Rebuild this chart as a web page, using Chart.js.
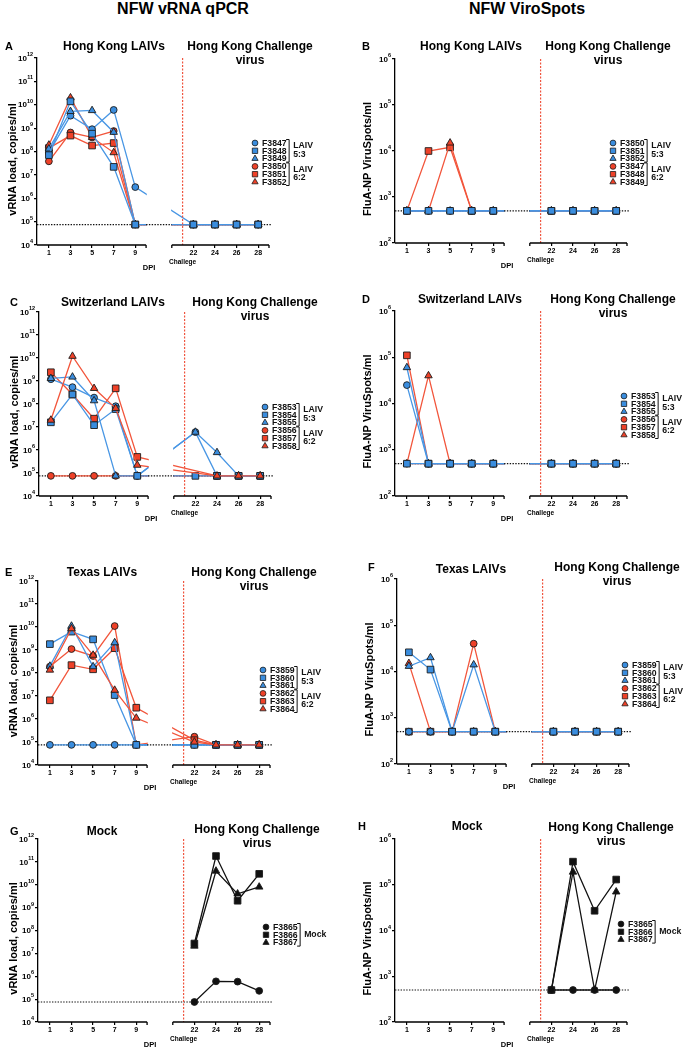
<!DOCTYPE html>
<html>
<head>
<meta charset="utf-8">
<script src="https://cdn.jsdelivr.net/npm/chart.js@4.4.1/dist/chart.umd.min.js"></script>
<style>
  body { margin: 0; width: 684px; height: 1050px; position: relative; overflow: hidden; background: #fff; }
  canvas { position: absolute; }
  .colTitle { position: absolute; top: 0; width: 240px; text-align: center; line-height: 20px;
              font: bold 16px "Liberation Sans", Arial, sans-serif; color: #000; }
</style>
</head>
<body>
<div class="colTitle" style="left:63px">NFW vRNA qPCR</div>
<div class="colTitle" style="left:407px">NFW ViroSpots</div>
<script>
// ---- data ----
const days = [1, 3, 5, 7, 9, 22, 24, 26, 28];
const challengeDay = 21;
const lodR = 7.5e4;   // qPCR detection limit
const lodS = 500;     // ViroSpots detection limit

const idsHongKong      = ['F3847', 'F3848', 'F3849', 'F3850', 'F3851', 'F3852'];
const idsHongKongSpots = ['F3850', 'F3851', 'F3852', 'F3847', 'F3848', 'F3849'];
const idsSwiss         = ['F3853', 'F3854', 'F3855', 'F3856', 'F3857', 'F3858'];
const idsTexas         = ['F3859', 'F3860', 'F3861', 'F3862', 'F3863', 'F3864'];
const idsMock          = ['F3865', 'F3866', 'F3867'];

const rnaHongKong = [
  [9e7,   3.4e9,  9e8,   6e9,   3e6,  lodR, lodR, lodR, lodR],
  [7e7,   1.4e10, 5.8e8, 2.2e7, lodR, lodR, lodR, lodR, lodR],
  [1.3e8, 5.2e9,  5.7e9, 6.7e8, lodR, lodR, lodR, lodR, lodR],
  [3.8e7, 6.5e8,  4e8,   7.5e8, lodR, lodR, lodR, lodR, lodR],
  [1.4e8, 4.8e8,  1.8e8, 2.3e8, lodR, lodR, lodR, lodR, lodR],
  [1.9e8, 2e10,   4e8,   9e7,   lodR, lodR, lodR, lodR, lodR]
];
const spotsHongKong = [
  [lodS, lodS, lodS,  lodS, lodS, lodS, lodS, lodS, lodS],
  [lodS, lodS, lodS,  lodS, lodS, lodS, lodS, lodS, lodS],
  [lodS, lodS, lodS,  lodS, lodS, lodS, lodS, lodS, lodS],
  [lodS, lodS, lodS,  lodS, lodS, lodS, lodS, lodS, lodS],
  [lodS, 1e4,  1.2e4, lodS, lodS, lodS, lodS, lodS, lodS],
  [lodS, lodS, 1.5e4, lodS, lodS, lodS, lodS, lodS, lodS]
];
const rnaSwiss = [
  [1.2e9, 5.4e8,  1.9e8, 8e7,   lodR,  6e6,  lodR,  lodR, lodR],
  [1.6e7, 2.6e8,  1.2e7, 6e7,   lodR,  lodR, lodR,  lodR, lodR],
  [1.3e9, 1.5e9,  1.4e8, lodR,  lodR,  6e6,  7.8e5, lodR, lodR],
  [lodR,  lodR,   lodR,  lodR,  lodR,  null, lodR,  lodR, lodR],
  [2.4e9, 2.6e8,  2.3e7, 4.8e8, 5e5,   null, lodR,  lodR, lodR],
  [2e7,   1.2e10, 4.8e8, 6.5e7, 2.2e5, null, lodR,  lodR, lodR]
];
const spotsSwiss = [
  [2.5e4, lodS, lodS, lodS, lodS, lodS, lodS, lodS, lodS],
  [lodS,  lodS, lodS, lodS, lodS, lodS, lodS, lodS, lodS],
  [6e4,   lodS, lodS, lodS, lodS, lodS, lodS, lodS, lodS],
  [lodS,  lodS, lodS, lodS, lodS, lodS, lodS, lodS, lodS],
  [1.1e5, lodS, lodS, lodS, lodS, lodS, lodS, lodS, lodS],
  [lodS,  4e4,  lodS, lodS, lodS, lodS, lodS, lodS, lodS]
];
const rnaTexas = [
  [lodR,   lodR,   lodR,   lodR,   lodR,  lodR,  lodR, lodR, lodR],
  [1.8e9,  6.3e9,  2.9e9,  1.1e7,  lodR,  lodR,  lodR, lodR, lodR],
  [2e8,    1.1e10, 1.9e8,  2.1e9,  lodR,  lodR,  lodR, lodR, lodR],
  [1.9e8,  1.1e9,  5.5e8,  1.1e10, lodR,  1.7e5, lodR, lodR, lodR],
  [6.5e6,  2.2e8,  1.45e8, 1.2e9,  3.1e6, 1.2e5, lodR, lodR, lodR],
  [1.35e8, 8.5e9,  6e8,    1.8e7,  1.1e6, 1e5,   lodR, lodR, lodR]
];
const spotsTexas = [
  [lodS,  lodS,  lodS, lodS,  lodS, lodS, lodS, lodS, lodS],
  [2.6e4, 1.1e4, lodS, lodS,  lodS, lodS, lodS, lodS, lodS],
  [1.3e4, 2e4,   lodS, 1.4e4, lodS, lodS, lodS, lodS, lodS],
  [lodS,  lodS,  lodS, 4e4,   lodS, lodS, lodS, lodS, lodS],
  [lodS,  lodS,  lodS, lodS,  lodS, lodS, lodS, lodS, lodS],
  [1.5e4, lodS,  lodS, lodS,  lodS, lodS, lodS, lodS, lodS]
];
const rnaMock = [
  [null, null, null, null, null, 7.5e4, 6e5,    5.8e5, 2.3e5],
  [null, null, null, null, null, 2.7e7, 1.8e11, 2e9,   3e10],
  [null, null, null, null, null, 2.1e7, 4e10,   4e9,   8e9]
];
const spotsMock = [
  [null, null, null, null, null, lodS, lodS,  lodS,  lodS],
  [null, null, null, null, null, lodS, 3.2e5, 2.7e4, 1.3e5],
  [null, null, null, null, null, lodS, 1.9e5, lodS,  7e4]
];

// ---- look ----
const GAP = 2.38;                       // width of the axis break, in day units
const toPos = d => d <= 10 ? d : d - 10 + GAP;
const COL_W = 342, AREA_W = 232, YAX_W = 30, XAX_H = 14;
const blue  = { fill: '#3a8dde', line: '#4896e4' };
const red   = { fill: '#ee4128', line: '#f2553b' };
const black = { fill: '#111111', line: '#111111' };
const shapes = ['circle', 'rect', 'triangle'];
const radii = [3.4, 4.7, 4.3];
const legendRadii = [2.9, 3.8, 3.6];
const orders = {
  blue:   [2, 0, 1, 5, 4, 3],
  redTri: [3, 1, 2, 5, 4, 0],
  mock:   [0, 1, 2]
};
const FAMILY = '"Liberation Sans", Arial, sans-serif';
const font = s => `bold ${s}px ${FAMILY}`;

const laivGroups = [{ from: 0, to: 2, text: ['LAIV', '5:3'] }, { from: 3, to: 5, text: ['LAIV', '6:2'] }];
const mockGroups = [{ from: 0, to: 2, text: ['Mock'] }];

const panels = [
  { letter: 'A', col: 0, band: [28, 250],  left: 37,  top: 58,  bottom: 245,  kind: 'rna',   ids: idsHongKong,      values: rnaHongKong,
    title: 'Hong Kong LAIVs',   lt: [5, 47],    tt: [114, 47],  ct: [250, 47],  legend: [255, 143], order: 'blue' },
  { letter: 'B', col: 1, band: [28, 250],  left: 395, top: 59,  bottom: 243,  kind: 'spots', ids: idsHongKongSpots, values: spotsHongKong,
    title: 'Hong Kong LAIVs',   lt: [362, 47],  tt: [471, 47],  ct: [608, 47],  legend: [613, 143], order: 'blue' },
  { letter: 'C', col: 0, band: [278, 250], left: 39,  top: 312, bottom: 496,  kind: 'rna',   ids: idsSwiss,         values: rnaSwiss,
    title: 'Switzerland LAIVs', lt: [10, 303],  tt: [113, 303], ct: [255, 303], legend: [265, 407], order: 'redTri' },
  { letter: 'D', col: 1, band: [278, 250], left: 395, top: 311, bottom: 496,  kind: 'spots', ids: idsSwiss,         values: spotsSwiss,
    title: 'Switzerland LAIVs', lt: [362, 300], tt: [470, 300], ct: [613, 300], legend: [624, 396], order: 'blue' },
  { letter: 'E', col: 0, band: [528, 266], left: 38,  top: 581, bottom: 765,  kind: 'rna',   ids: idsTexas,         values: rnaTexas,
    title: 'Texas LAIVs',       lt: [5, 573],   tt: [102, 573], ct: [254, 573], legend: [263, 670], order: 'redTri' },
  { letter: 'F', col: 1, band: [528, 266], left: 397, top: 579, bottom: 764,  kind: 'spots', ids: idsTexas,         values: spotsTexas,
    title: 'Texas LAIVs',       lt: [368, 568], tt: [471, 570], ct: [617, 568], legend: [625, 665], order: 'blue' },
  { letter: 'G', col: 0, band: [794, 256], left: 38,  top: 839, bottom: 1022, kind: 'rna',   ids: idsMock,          values: rnaMock,
    title: 'Mock',              lt: [10, 832],  tt: [102, 832], ct: [257, 830], legend: [266, 927], order: 'mock' },
  { letter: 'H', col: 1, band: [794, 256], left: 395, top: 839, bottom: 1022, kind: 'spots', ids: idsMock,          values: spotsMock,
    title: 'Mock',              lt: [358, 827], tt: [467, 827], ct: [611, 828], legend: [621, 924], order: 'mock' }
];

function dotted(ctx, x0, x1, y) {
  ctx.save();
  ctx.strokeStyle = '#111';
  ctx.lineWidth = 1.2;
  ctx.setLineDash([1.4, 1.4]);
  ctx.beginPath();
  ctx.moveTo(x0, y);
  ctx.lineTo(x1, y);
  ctx.stroke();
  ctx.restore();
}

function makePanel(p) {
  const ox = p.col * COL_W, oy = p.band[0], h = p.band[1];
  const canvas = document.createElement('canvas');
  canvas.width = COL_W;
  canvas.height = h;
  canvas.style.left = ox + 'px';
  canvas.style.top = oy + 'px';
  document.body.appendChild(canvas);

  const rna = p.kind === 'rna';
  const lod = rna ? lodR : lodS;
  const decades = rna ? [1e4, 1e5, 1e6, 1e7, 1e8, 1e9, 1e10, 1e11, 1e12] : [1e2, 1e3, 1e4, 1e5, 1e6];
  const mock = p.ids.length === 3;
  const colors = mock ? [black, black, black] : [blue, blue, blue, red, red, red];
  const groups = mock ? mockGroups : laivGroups;

  const datasets = p.values.map((vals, i) => ({
    label: p.ids[i],
    data: days.map((d, j) => ({ x: toPos(d), y: vals[j] })),
    borderColor: colors[i].line,
    backgroundColor: colors[i].fill,
    pointBackgroundColor: colors[i].fill,
    pointBorderColor: '#1c1c1c',
    pointBorderWidth: 0.9,
    pointStyle: shapes[i % 3],
    pointRadius: radii[i % 3],
    borderWidth: 1.3,
    spanGaps: true,
    order: orders[p.order][i]
  }));

  const deco = {
    id: 'deco' + p.letter,
    beforeDatasetsDraw(chart) {
      const { ctx, chartArea: a, scales: { y } } = chart;
      dotted(ctx, a.left, a.right + 3, y.getPixelForValue(lod));
    },
    afterDatasetsDraw(chart) {
      const { ctx, chartArea: a, scales: { x, y } } = chart;
      const g0 = x.getPixelForValue(10), g1 = x.getPixelForValue(10 + GAP);
      // hide the lines inside the axis break
      ctx.save();
      ctx.fillStyle = '#fff';
      ctx.fillRect(g0 + 0.7, a.top - 6, g1 - g0 - 1.4, a.bottom - a.top + 5);
      ctx.restore();
      dotted(ctx, g0, g1, y.getPixelForValue(lod));
      // challenge day
      const rx = x.getPixelForValue(toPos(challengeDay));
      ctx.save();
      ctx.strokeStyle = '#f0553f';
      ctx.lineWidth = 1.2;
      ctx.setLineDash([2, 1.5]);
      ctx.beginPath();
      ctx.moveTo(rx, a.top);
      ctx.lineTo(rx, a.bottom);
      ctx.stroke();
      ctx.restore();
    },
    afterDraw(chart) {
      const { ctx, chartArea: a, scales: { x, y } } = chart;
      const g0 = x.getPixelForValue(10), g1 = x.getPixelForValue(10 + GAP);
      ctx.save();
      // broken x axis
      ctx.strokeStyle = '#000';
      ctx.lineWidth = 1.3;
      ctx.beginPath();
      ctx.moveTo(a.left, a.bottom); ctx.lineTo(g0, a.bottom);
      ctx.moveTo(g1, a.bottom); ctx.lineTo(a.right, a.bottom);
      [g0, g1, a.right].forEach(px => { ctx.moveTo(px, a.bottom); ctx.lineTo(px, a.bottom + 3); });
      ctx.stroke();

      // y tick labels: 10 with a raised exponent
      ctx.fillStyle = '#000';
      ctx.textBaseline = 'middle';
      ctx.textAlign = 'right';
      y.ticks.forEach(t => {
        const py = y.getPixelForValue(t.value);
        const ex = String(Math.round(Math.log10(t.value)));
        ctx.font = font(5.5);
        const ew = ctx.measureText(ex).width;
        ctx.fillText(ex, a.left - 4, py - 3.5);
        ctx.font = font(8);
        ctx.fillText('10', a.left - 4 - ew, py + 0.5);
      });

      // texts
      ctx.textAlign = 'center';
      ctx.font = font(12);
      ctx.fillText(p.title, p.tt[0] - ox, p.tt[1] - oy);
      ctx.fillText('Hong Kong Challenge', p.ct[0] - ox, p.ct[1] - oy);
      ctx.fillText('virus', p.ct[0] - ox, p.ct[1] - oy + 13.5);
      ctx.font = font(11);
      ctx.textAlign = 'left';
      ctx.fillText(p.letter, p.lt[0] - ox, p.lt[1] - oy);
      ctx.textAlign = 'center';
      ctx.font = font(7.5);
      ctx.fillText('DPI', a.left + 112, a.bottom + 23);
      ctx.font = font(6.5);
      ctx.fillText('Challege', x.getPixelForValue(toPos(challengeDay)), a.bottom + 17);

      ctx.save();
      ctx.translate(a.left - (rna ? 24 : 27), (a.top + a.bottom) / 2 + 8);
      ctx.rotate(-Math.PI / 2);
      ctx.font = font(11);
      ctx.fillText(rna ? 'vRNA load, copies/ml' : 'FluA-NP ViruSpots/ml', 0, 0);
      ctx.restore();

      // legend with brackets
      const lx = p.legend[0] - ox, ly = p.legend[1] - oy, dy = 7.8;
      ctx.font = font(8.7);
      ctx.textAlign = 'left';
      let maxW = 0;
      chart.data.datasets.forEach((ds, i) => {
        const yy = ly + i * dy;
        ctx.fillStyle = ds.pointBackgroundColor;
        ctx.strokeStyle = '#1c1c1c';
        ctx.lineWidth = 0.8;
        Chart.helpers.drawPoint(ctx, { pointStyle: ds.pointStyle, radius: legendRadii[i % 3], borderWidth: 0.8, rotation: 0 }, lx, yy);
        ctx.fillStyle = '#111';
        ctx.fillText(ds.label, lx + 7, yy + 0.5);
        maxW = Math.max(maxW, ctx.measureText(ds.label).width);
      });
      const bx = lx + 7 + maxW + 2.5;
      ctx.strokeStyle = '#111';
      ctx.lineWidth = 1;
      groups.forEach(g => {
        const y0 = ly + g.from * dy - 3.5, y1 = ly + g.to * dy + 3.5;
        ctx.beginPath();
        ctx.moveTo(bx - 3, y0); ctx.lineTo(bx, y0); ctx.lineTo(bx, y1); ctx.lineTo(bx - 3, y1);
        ctx.stroke();
        ctx.fillStyle = '#111';
        if (g.text.length === 1) {
          ctx.fillText(g.text[0], bx + 4, (y0 + y1) / 2);
        } else {
          ctx.fillText(g.text[0], bx + 4, ly + g.from * dy + 3);
          ctx.fillText(g.text[1], bx + 4, ly + g.from * dy + 11.5);
        }
      });
      ctx.restore();
    }
  };

  new Chart(canvas, {
    type: 'line',
    data: { datasets },
    options: {
      responsive: false,
      animation: false,
      devicePixelRatio: 1,
      layout: {
        padding: {
          left: p.left - ox - YAX_W,
          top: p.top - oy,
          right: ox + COL_W - (p.left + AREA_W),
          bottom: oy + h - p.bottom - XAX_H
        }
      },
      plugins: { legend: { display: false }, title: { display: false }, tooltip: { enabled: false } },
      scales: {
        x: {
          type: 'linear',
          bounds: 'data',
          min: -0.1,
          max: 21.38,
          afterBuildTicks: s => { s.ticks = days.map(d => ({ value: toPos(d) })); },
          afterFit: s => { s.height = XAX_H; },
          ticks: {
            autoSkip: false, maxRotation: 0, padding: 1, color: '#000',
            font: { family: FAMILY, size: 7, weight: 'bold' },
            callback: (v, i) => String(days[i])
          },
          grid: { drawOnChartArea: false, tickLength: 3, color: '#000', lineWidth: 1.2 },
          border: { display: false }
        },
        y: {
          type: 'logarithmic',
          bounds: 'data',
          min: decades[0],
          max: decades[decades.length - 1],
          afterBuildTicks: s => { s.ticks = decades.map(v => ({ value: v })); },
          afterFit: s => { s.width = YAX_W; },
          ticks: { display: false },
          grid: { drawOnChartArea: false, tickLength: 3, color: '#000', lineWidth: 1.2 },
          border: { display: true, color: '#000', width: 1.3 }
        }
      }
    },
    plugins: [deco]
  });
}

panels.forEach(makePanel);
</script>
</body>
</html>
